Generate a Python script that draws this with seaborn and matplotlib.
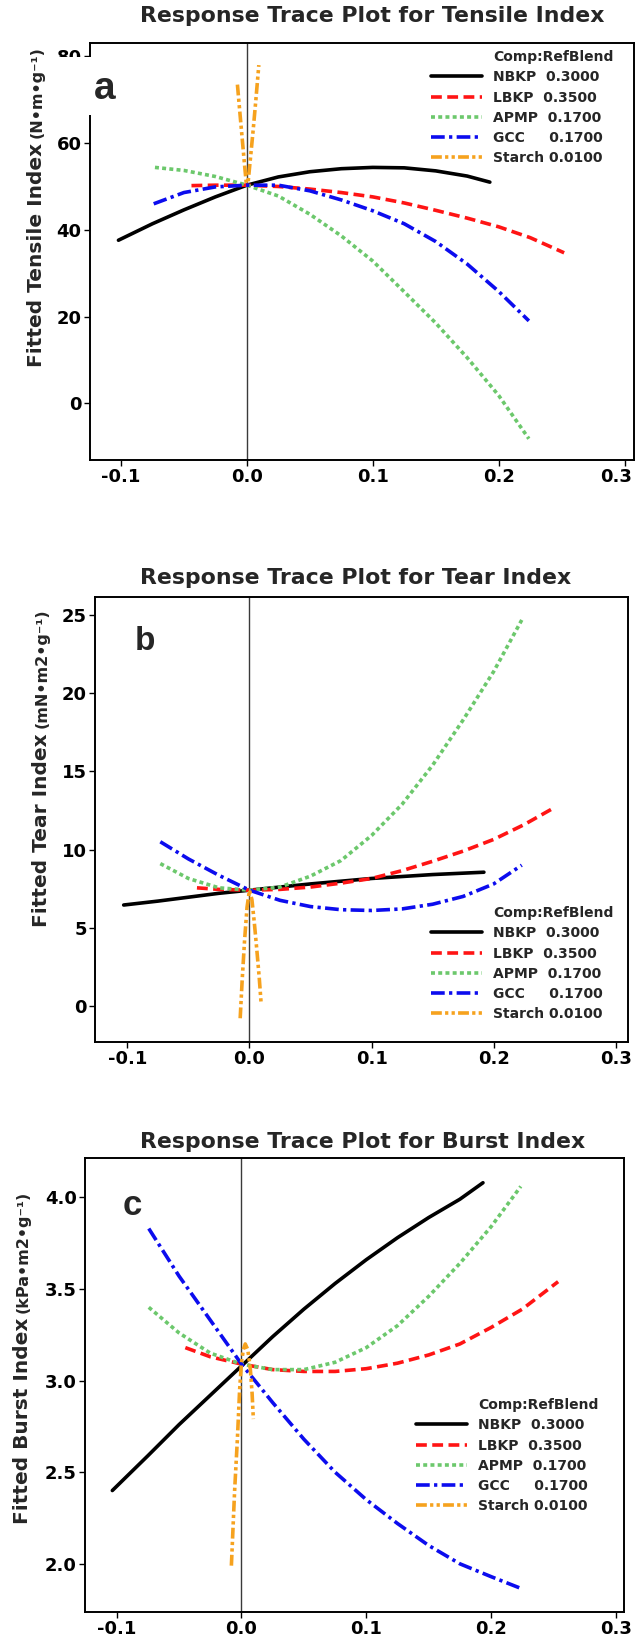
import pandas as pd
import seaborn as sns
import matplotlib.pyplot as plt
from matplotlib.lines import Line2D
from matplotlib.patches import Rectangle
from matplotlib.transforms import ScaledTranslation

components = ['NBKP', 'LBKP', 'APMP', 'GCC', 'Starch']
ref_blend = ['0.3000', '0.3500', '0.1700', '0.1700', '0.0100']
x_ticks = [-0.1, 0.0, 0.1, 0.2, 0.3]

# (a) tensile index
tensile_nbkp_x = [-0.102, -0.075, -0.05, -0.025, 0.0, 0.025, 0.05, 0.075, 0.1, 0.125, 0.15, 0.175, 0.193]
tensile_nbkp_y = [37.6, 41.4, 44.6, 47.6, 50.3, 52.2, 53.4, 54.1, 54.4, 54.3, 53.6, 52.4, 51.0]
tensile_lbkp_x = [-0.044, -0.025, 0.0, 0.025, 0.05, 0.075, 0.1, 0.125, 0.15, 0.175, 0.2, 0.225, 0.252]
tensile_lbkp_y = [50.2, 50.3, 50.3, 50.0, 49.4, 48.6, 47.6, 46.2, 44.5, 42.7, 40.7, 38.2, 34.7]
tensile_apmp_x = [-0.073, -0.05, -0.025, 0.0, 0.025, 0.05, 0.075, 0.1, 0.125, 0.15, 0.175, 0.2, 0.224]
tensile_apmp_y = [54.4, 53.7, 52.3, 50.3, 47.8, 43.6, 38.6, 32.8, 25.7, 18.5, 10.5, 1.8, -8.2]
tensile_gcc_x = [-0.074, -0.05, -0.025, 0.0, 0.025, 0.05, 0.075, 0.1, 0.125, 0.15, 0.175, 0.2, 0.224]
tensile_gcc_y = [46.0, 48.6, 49.9, 50.3, 50.3, 49.0, 46.9, 44.4, 41.4, 37.3, 32.1, 25.8, 19.0]
tensile_starch_x = [-0.0075, -0.006, -0.004, -0.002, -0.0005, 0.001, 0.003, 0.005, 0.007, 0.0095]
tensile_starch_y = [73.5, 68.5, 62.0, 55.5, 50.8, 51.0, 57.0, 63.0, 69.5, 78.0]

# (b) tear index
tear_nbkp_x = [-0.103, -0.075, -0.05, -0.025, 0.0, 0.05, 0.1, 0.15, 0.192]
tear_nbkp_y = [6.45, 6.7, 6.95, 7.2, 7.4, 7.8, 8.15, 8.4, 8.55]
tear_lbkp_x = [-0.043, -0.025, 0.0, 0.025, 0.05, 0.075, 0.1, 0.125, 0.15, 0.175, 0.2, 0.225, 0.25]
tear_lbkp_y = [7.55, 7.45, 7.4, 7.45, 7.6, 7.85, 8.15, 8.65, 9.25, 9.9, 10.65, 11.6, 12.7]
tear_apmp_x = [-0.073, -0.05, -0.025, 0.0, 0.025, 0.05, 0.075, 0.1, 0.125, 0.15, 0.175, 0.2, 0.223]
tear_apmp_y = [9.1, 8.15, 7.55, 7.4, 7.6, 8.3, 9.3, 10.9, 12.9, 15.4, 18.3, 21.4, 24.7]
tear_gcc_x = [-0.073, -0.05, -0.025, 0.0, 0.025, 0.05, 0.075, 0.1, 0.125, 0.15, 0.175, 0.2, 0.223]
tear_gcc_y = [10.5, 9.4, 8.35, 7.4, 6.75, 6.35, 6.15, 6.1, 6.2, 6.5, 7.0, 7.8, 9.0]
tear_starch_x = [-0.0076, -0.006, -0.004, -0.002, 0.0, 0.002, 0.004, 0.006, 0.008, 0.0095]
tear_starch_y = [-0.8, 1.6, 4.2, 6.3, 7.4, 6.8, 5.3, 3.6, 1.8, 0.2]

# (c) burst index
burst_nbkp_x = [-0.1035, -0.075, -0.05, -0.025, 0.0, 0.025, 0.05, 0.075, 0.1, 0.125, 0.15, 0.175, 0.1935]
burst_nbkp_y = [2.40, 2.59, 2.76, 2.92, 3.08, 3.24, 3.39, 3.53, 3.66, 3.78, 3.89, 3.99, 4.08]
burst_lbkp_x = [-0.045, -0.025, 0.0, 0.025, 0.05, 0.075, 0.1, 0.125, 0.15, 0.175, 0.2, 0.225, 0.2537]
burst_lbkp_y = [3.18, 3.13, 3.09, 3.06, 3.05, 3.05, 3.065, 3.095, 3.14, 3.2, 3.29, 3.39, 3.54]
burst_apmp_x = [-0.0743, -0.05, -0.025, 0.0, 0.025, 0.05, 0.075, 0.1, 0.125, 0.15, 0.175, 0.2, 0.2238]
burst_apmp_y = [3.40, 3.26, 3.15, 3.09, 3.06, 3.06, 3.10, 3.18, 3.30, 3.46, 3.64, 3.84, 4.06]
burst_gcc_x = [-0.0743, -0.05, -0.025, 0.0, 0.025, 0.05, 0.075, 0.1, 0.125, 0.15, 0.175, 0.2, 0.2238]
burst_gcc_y = [3.83, 3.57, 3.33, 3.09, 2.88, 2.68, 2.50, 2.35, 2.22, 2.10, 2.00, 1.93, 1.866]
burst_starch_x = [-0.0081, -0.0055, -0.0033, -0.0015, 0.0, 0.0015, 0.003, 0.005, 0.007, 0.0085, 0.0095]
burst_starch_y = [1.99, 2.4, 2.68, 2.95, 3.1, 3.17, 3.2, 3.17, 3.07, 2.93, 2.79]

palette = {'NBKP': '#000000', 'LBKP': '#ff1414', 'APMP': '#6cc86c',
           'GCC': '#0c0cee', 'Starch': '#f6a21e'}
dashes = {'NBKP': '', 'LBKP': (3.0, 1.5), 'APMP': (1.1, 0.9),
          'GCC': (3.8, 1.2, 0.9, 1.2), 'Starch': (3.0, 0.9, 0.9, 0.9, 0.9, 0.9)}
LW = 2.6

W, H = 636, 1642

sns.set_style('white')
plt.rcParams['font.family'] = 'DejaVu Sans'
plt.rcParams['font.weight'] = 'bold'
plt.rcParams['axes.unicode_minus'] = False

fig = plt.figure(figsize=(W / 100, H / 100), dpi=100)


def make_df(xs, ys):
    parts = [pd.DataFrame({'dev': x, 'fit': y, 'comp': c}) for c, x, y in zip(components, xs, ys)]
    return pd.concat(parts, ignore_index=True)


def fx(px):
    return px / W


def fy(py):
    return 1 - py / H


panels = [
    dict(box=(90, 43, 634, 460), xlim=(-0.1246, 0.3075), ylim=(-13.1, 83.1),
         yticks=[0, 20, 40, 60, 80], yfmt='{:.0f}',
         xs=[tensile_nbkp_x, tensile_lbkp_x, tensile_apmp_x, tensile_gcc_x, tensile_starch_x],
         ys=[tensile_nbkp_y, tensile_lbkp_y, tensile_apmp_y, tensile_gcc_y, tensile_starch_y],
         title='Response Trace Plot for Tensile Index', title_y=16,
         label='Fitted Tensile Index', unit='(N•m•g⁻¹)', label_xy=(42, 367),
         letter='a', letter_xy=(105, 89), letter_size=28, leg_xy=(431, 50)),
    dict(box=(95, 597, 628, 1042), xlim=(-0.1265, 0.310), ylim=(-2.32, 26.17),
         yticks=[0, 5, 10, 15, 20, 25], yfmt='{:.0f}',
         xs=[tear_nbkp_x, tear_lbkp_x, tear_apmp_x, tear_gcc_x, tear_starch_x],
         ys=[tear_nbkp_y, tear_lbkp_y, tear_apmp_y, tear_gcc_y, tear_starch_y],
         title='Response Trace Plot for Tear Index', title_y=578,
         label='Fitted Tear Index', unit='(mN•m2•g⁻¹)', label_xy=(47, 927),
         letter='b', letter_xy=(145, 642), letter_size=24, leg_xy=(431, 906)),
    dict(box=(85, 1158, 624, 1612), xlim=(-0.1254, 0.3065), ylim=(1.737, 4.215),
         yticks=[2.0, 2.5, 3.0, 3.5, 4.0], yfmt='{:.1f}',
         xs=[burst_nbkp_x, burst_lbkp_x, burst_apmp_x, burst_gcc_x, burst_starch_x],
         ys=[burst_nbkp_y, burst_lbkp_y, burst_apmp_y, burst_gcc_y, burst_starch_y],
         title='Response Trace Plot for Burst Index', title_y=1142,
         label='Fitted Burst Index', unit='(kPa•m2•g⁻¹)', label_xy=(28, 1524),
         letter='c', letter_xy=(132, 1205), letter_size=25, leg_xy=(416, 1398)),
]

main_labels = []
for i, p in enumerate(panels):
    l, t, r, b = p['box']
    ax = fig.add_axes([fx(l), fy(b), (r - l) / W, (b - t) / H])
    df = make_df(p['xs'], p['ys'])
    ax.axvline(0, color='#3a3a3a', lw=1.0, zorder=1)
    sns.lineplot(data=df, x='dev', y='fit', hue='comp', style='comp',
                 hue_order=components, style_order=components,
                 palette=palette, dashes=dashes, estimator=None, sort=False,
                 lw=LW, legend=False, ax=ax, zorder=3)
    ax.set_xlim(*p['xlim'])
    ax.set_ylim(*p['ylim'])
    ax.set_xticks(x_ticks)
    ax.set_xticklabels(['{:.1f}'.format(v) for v in x_ticks])
    ax.set_yticks(p['yticks'])
    ax.set_yticklabels([p['yfmt'].format(v) for v in p['yticks']])
    ax.tick_params(axis='both', direction='out', length=4, width=1.0,
                   labelsize=13, pad=2, bottom=True, left=True, colors='black')
    ax.set_xlabel('')
    ax.set_ylabel('')
    for s in ax.spines.values():
        s.set_color('black')
        s.set_linewidth(1.4)
    if i == 0:
        # last tick label sits at the figure edge; nudge it inside
        lab = ax.get_xticklabels()[-1]
        lab.set_transform(lab.get_transform() + ScaledTranslation(-6 / 72, 0, fig.dpi_scale_trans))

    fig.text(fx(140), fy(p['title_y']), p['title'], ha='left', va='center',
             fontsize=15.8, fontweight='bold')

    lx, ly = p['label_xy']
    t_main = fig.text(fx(lx), fy(ly), p['label'], rotation=90, rotation_mode='anchor',
                      ha='left', va='baseline', fontsize=14.5, fontweight='bold')
    main_labels.append((t_main, p['unit'], lx))

    fig.text(fx(p['letter_xy'][0]), fy(p['letter_xy'][1]), p['letter'],
             ha='center', va='center', fontsize=p['letter_size'], fontweight='bold',
             family='Liberation Sans', zorder=10)

    handles = [Line2D([], [], color='none', label='Comp:RefBlend')]
    for c, v in zip(components, ref_blend):
        name = {'NBKP': 'NBKP  ', 'LBKP': 'LBKP  ', 'APMP': 'APMP  ',
                'GCC': 'GCC     ', 'Starch': 'Starch '}[c]
        if dashes[c] == '':
            h = Line2D([], [], color=palette[c], lw=LW, ls='-', label=name + v)
        else:
            h = Line2D([], [], color=palette[c], lw=LW, dashes=dashes[c], label=name + v)
        handles.append(h)
    gx, gy = p['leg_xy']
    ax.legend(handles=handles, loc='upper left', bbox_to_anchor=(fx(gx), fy(gy)),
              bbox_transform=fig.transFigure, frameon=False, borderpad=0,
              borderaxespad=0, handlelength=3.7, handletextpad=0.75,
              labelspacing=0.45, prop=dict(weight='bold', size=10))

# white patch behind the panel letter "a" (covers the spine there)
fig.add_artist(Rectangle((fx(58), fy(115)), (150 - 58) / W, (115 - 57.5) / H,
                         transform=fig.transFigure, facecolor='white',
                         edgecolor='none', zorder=5))

# unit part of y labels, placed right after the main text
fig.canvas.draw()
renderer = fig.canvas.get_renderer()
for t_main, unit, lx in main_labels:
    bb = t_main.get_window_extent(renderer)
    fig.text(fx(lx), (bb.y1 + 5) / H, unit, rotation=90, rotation_mode='anchor',
             ha='left', va='baseline', fontsize=11.5, fontweight='bold')

fig.savefig('out.png', dpi=100)
